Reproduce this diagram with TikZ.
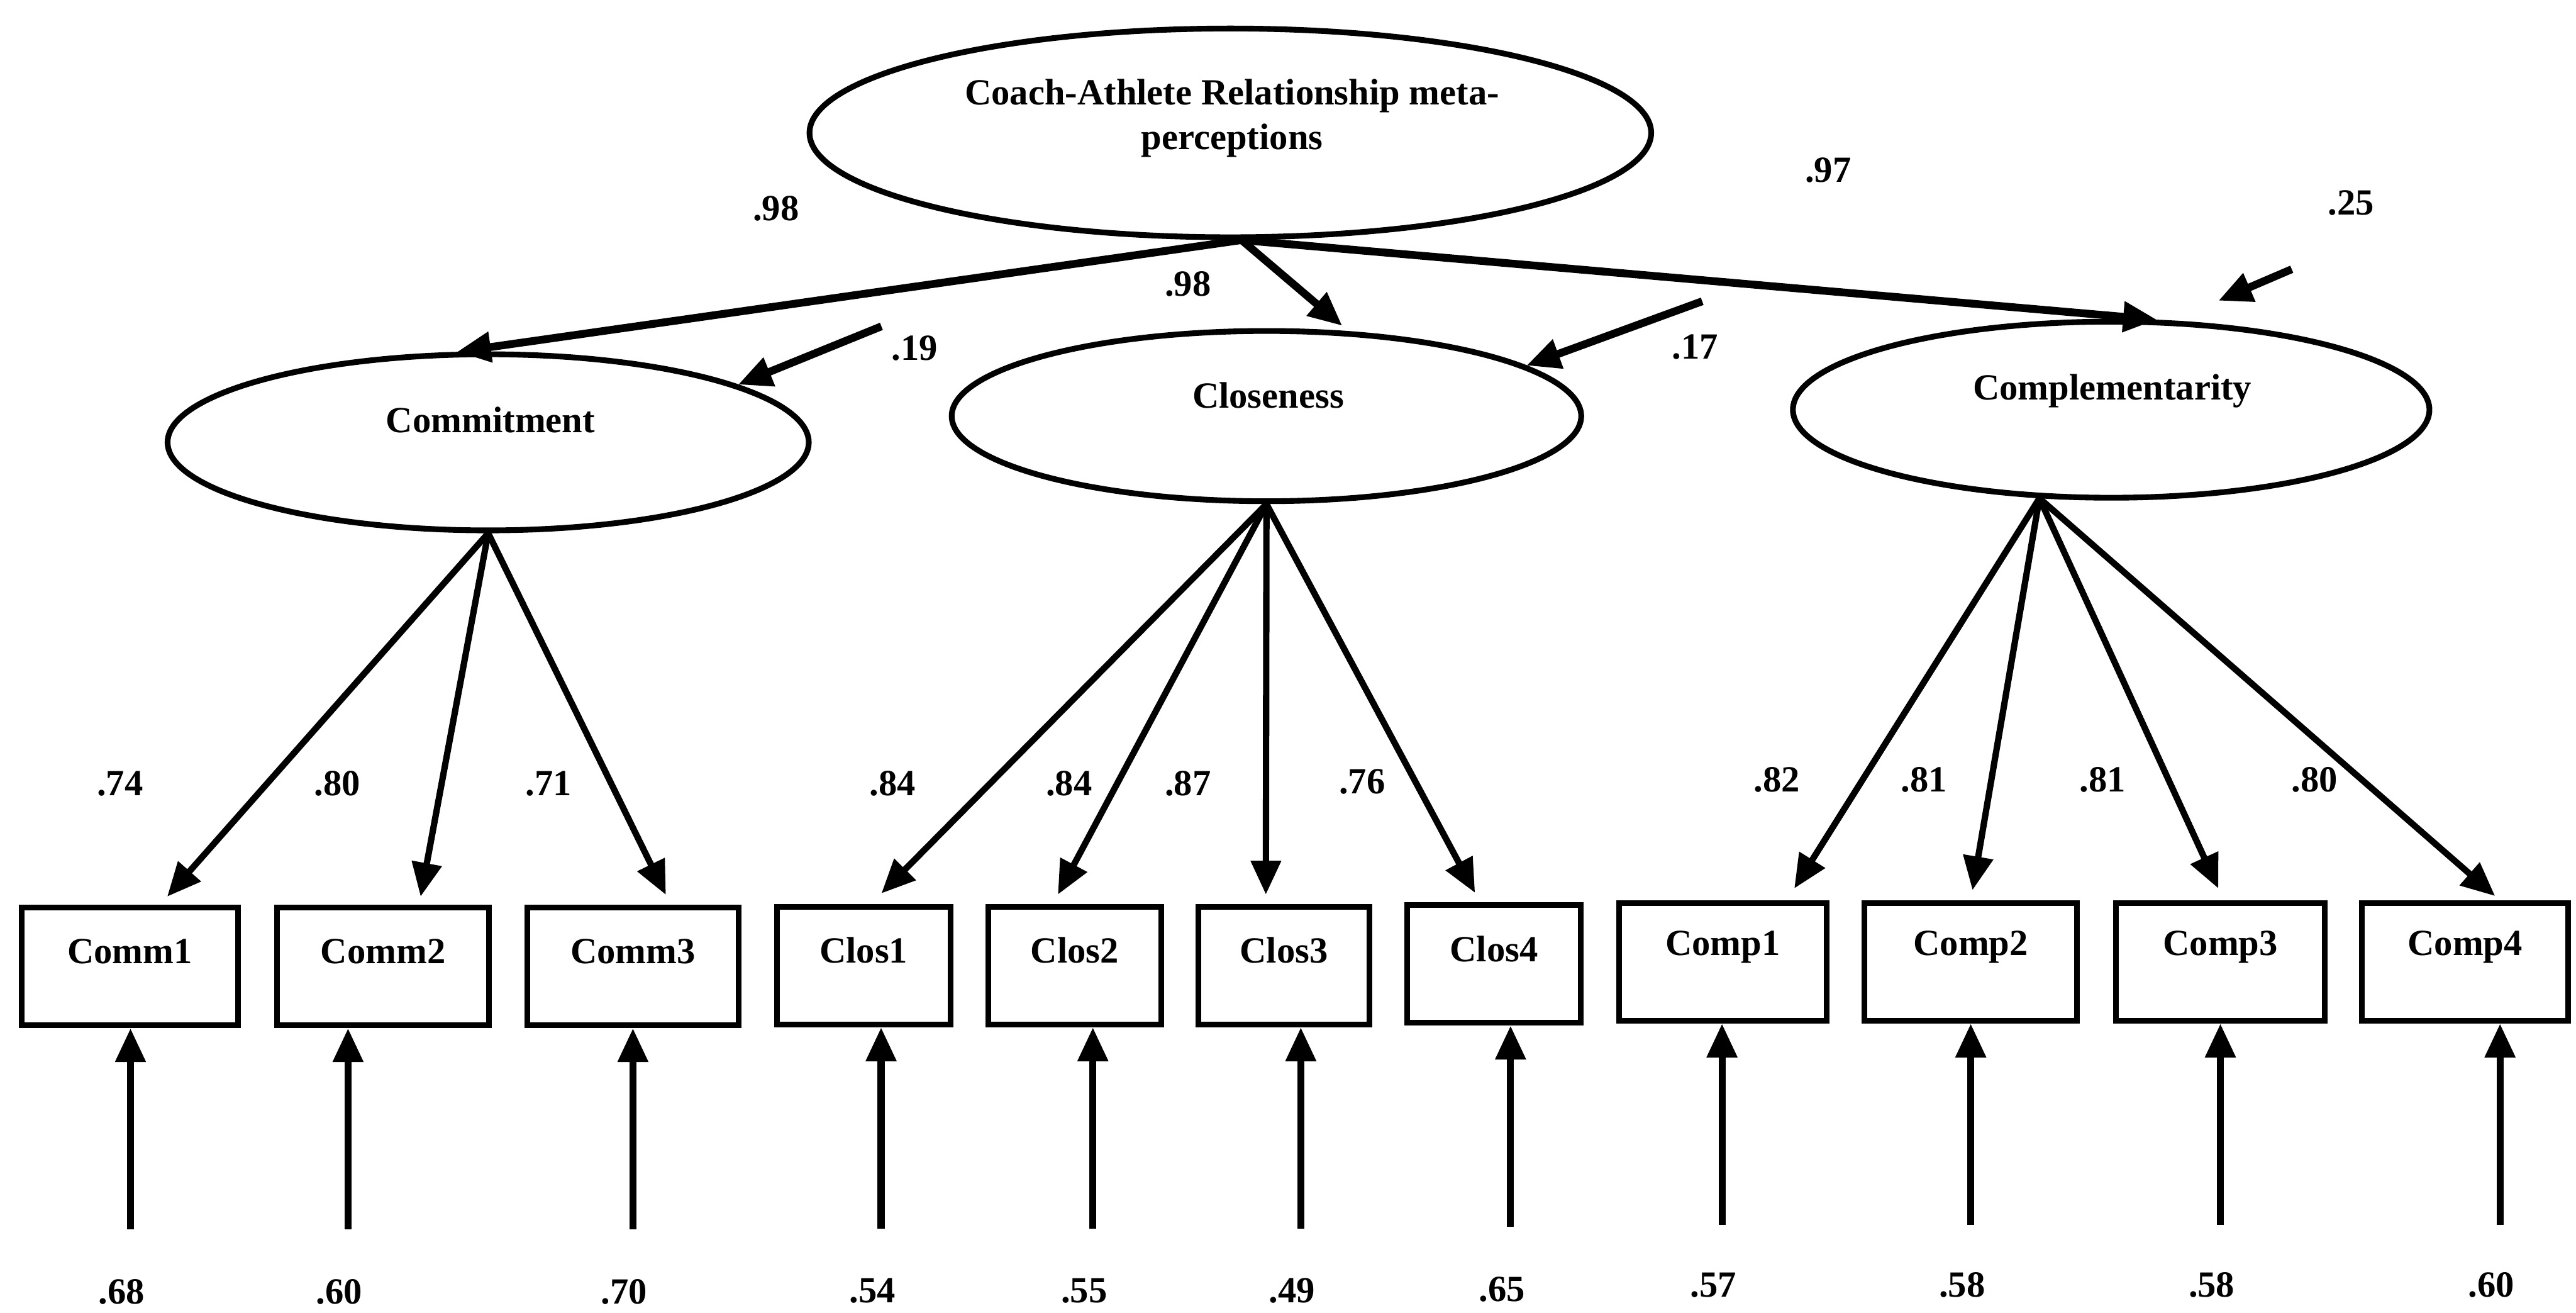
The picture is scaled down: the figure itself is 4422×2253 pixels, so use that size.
\documentclass[tikz,border=0pt]{standalone}
\usepackage{fontspec}
\setmainfont{Liberation Serif}
\usetikzlibrary{arrows.meta,shapes.geometric}
\begin{document}
\begin{tikzpicture}[
  x=0.01cm, y=-0.01cm,
  every node/.style={inner sep=0pt},
  txt/.style={font=\fontsize{18}{22}\selectfont\bfseries, align=center},
  latent/.style={ellipse, draw, line width=2.8pt},
  obs/.style={rectangle, draw, line width=2.8pt, minimum height=2.02cm},
  head/.style={-{Triangle[length=0.58cm,width=0.5cm]}},
  struct/.style={head, line width=3.8pt},
  load/.style={head, line width=3.1pt},
  err/.style={head, line width=3.4pt},
]
\useasboundingbox (0,0) rectangle (4422,2253);

% ---- latent factors ----
\node[latent, minimum width=14.44cm, minimum height=3.58cm] (top) at (2112,228) {};
\node[txt] (topT) at (2115,203) {Coach-Athlete Relationship meta-\\perceptions};

\node[latent, minimum width=11.00cm, minimum height=3.02cm] (com) at (838,759) {};
\node[txt] (comT) at (842,721) {Commitment};

\node[latent, minimum width=10.80cm, minimum height=2.92cm] (clo) at (2174,714) {};
\node[txt] (cloT) at (2177,678) {Closeness};

\node[latent, minimum width=10.92cm, minimum height=3.02cm] (cmp) at (3624,703) {};
\node[txt] (cmpT) at (3626,671) {Complementarity};

% ---- observed indicators ----
\node[obs, minimum width=3.71cm] (c1) at (223,1658.5) {};
\node[obs, minimum width=3.64cm] (c2) at (657.5,1658.5) {};
\node[obs, minimum width=3.62cm] (c3) at (1086.5,1658.5) {};
\node[obs, minimum width=2.98cm] (s1) at (1482.5,1657) {};
\node[obs, minimum width=2.97cm] (s2) at (1845,1657) {};
\node[obs, minimum width=2.93cm] (s3) at (2204,1657) {};
\node[obs, minimum width=2.98cm] (s4) at (2564.5,1654) {};
\node[obs, minimum width=3.56cm] (m1) at (2957.5,1650.5) {};
\node[obs, minimum width=3.65cm] (m2) at (3383,1650.5) {};
\node[obs, minimum width=3.58cm] (m3) at (3811.5,1650.5) {};
\node[obs, minimum width=3.54cm] (m4) at (4231.5,1650.5) {};

\node[txt] (c1t) at ([yshift=-0.80cm]c1.north) {Comm1};
\node[txt] (c2t) at ([yshift=-0.80cm]c2.north) {Comm2};
\node[txt] (c3t) at ([yshift=-0.80cm]c3.north) {Comm3};
\node[txt] (s1t) at ([yshift=-0.80cm]s1.north) {Clos1};
\node[txt] (s2t) at ([yshift=-0.80cm]s2.north) {Clos2};
\node[txt] (s3t) at ([yshift=-0.80cm]s3.north) {Clos3};
\node[txt] (s4t) at ([yshift=-0.80cm]s4.north) {Clos4};
\node[txt] (m1t) at ([yshift=-0.80cm]m1.north) {Comp1};
\node[txt] (m2t) at ([yshift=-0.80cm]m2.north) {Comp2};
\node[txt] (m3t) at ([yshift=-0.80cm]m3.north) {Comp3};
\node[txt] (m4t) at ([yshift=-0.80cm]m4.north) {Comp4};

% ---- second-order paths ----
\draw[struct] (top.-84) -- (com.109);
\draw[struct, shorten >=0.14cm] (top.-84) -- (clo.46);
\draw[struct] (top.-84) -- (cmp.63);
\node[txt] (p1) at (1332,358) {.98};
\node[txt] (p2) at (2039,487) {.98};
\node[txt] (p3) at (3138,292) {.97};

% ---- disturbances ----
\coordinate (d1) at (1513,560);
\coordinate (d2) at (2922,517);
\coordinate (d3) at (3934,462);
\coordinate (d3e) at (3808,516);
\draw[struct] (d1) -- (com.13);
\draw[struct] (d2) -- (clo.11.5);
\draw[struct] (d3) -- (d3e);
\node[txt] (r1) at (1570,598) {.19};
\node[txt] (r2) at (2910,595) {.17};
\node[txt] (r3) at (4036,348) {.25};

% ---- factor loadings ----
\draw[load] (com.south) -- ([xshift=0.64cm,yshift=0.14cm]c1.north);
\draw[load] (com.south) -- ([xshift=0.645cm,yshift=0.14cm]c2.north);
\draw[load] (com.south) -- ([xshift=0.565cm,yshift=0.17cm]c3.north);
\draw[load] (clo.south) -- ([xshift=0.305cm,yshift=0.18cm]s1.north);
\draw[load] (clo.south) -- ([xshift=-0.29cm,yshift=0.16cm]s2.north);
\draw[load] (clo.south) -- ([xshift=-0.31cm,yshift=0.16cm]s3.north);
\draw[load] (clo.south) -- ([xshift=-0.325cm,yshift=0.16cm]s4.north);
\draw[load] (cmp.-129) -- ([xshift=1.225cm,yshift=0.20cm]m1.north);
\draw[load] (cmp.-129) -- ([xshift=0.03cm,yshift=0.17cm]m2.north);
\draw[load] (cmp.-129) -- ([xshift=-0.035cm,yshift=0.20cm]m3.north);
\draw[load] (cmp.-129) -- ([xshift=0.515cm,yshift=0.07cm]m4.north);

\node[txt] (l1) at (206,1345) {.74};
\node[txt] (l2) at (579,1345) {.80};
\node[txt] (l3) at (942,1345) {.71};
\node[txt] (l4) at (1532,1345) {.84};
\node[txt] (l5) at (1835,1345) {.84};
\node[txt] (l6) at (2039,1345) {.87};
\node[txt] (l7) at (2338,1341) {.76};
\node[txt] (l8) at (3050,1338) {.82};
\node[txt] (l9) at (3303,1338) {.81};
\node[txt] (l10) at (3609,1338) {.81};
\node[txt] (l11) at (3973,1338) {.80};

% ---- measurement errors ----
\coordinate (e1)  at ([xshift=0.01cm,yshift=-3.45cm]c1.south);
\coordinate (e2)  at ([xshift=-0.60cm,yshift=-3.45cm]c2.south);
\coordinate (e3)  at ([xshift=0cm,yshift=-3.45cm]c3.south);
\coordinate (e4)  at ([xshift=0.30cm,yshift=-3.45cm]s1.south);
\coordinate (e5)  at ([xshift=0.31cm,yshift=-3.45cm]s2.south);
\coordinate (e6)  at ([xshift=0.29cm,yshift=-3.45cm]s3.south);
\coordinate (e7)  at ([xshift=0.285cm,yshift=-3.45cm]s4.south);
\coordinate (e8)  at ([xshift=-0.015cm,yshift=-3.45cm]m1.south);
\coordinate (e9)  at ([xshift=0cm,yshift=-3.45cm]m2.south);
\coordinate (e10) at ([xshift=0cm,yshift=-3.45cm]m3.south);
\coordinate (e11) at ([xshift=0.60cm,yshift=-3.45cm]m4.south);

\draw[err] (e1)  -- ([xshift=0.01cm]c1.south);
\draw[err] (e2)  -- ([xshift=-0.60cm]c2.south);
\draw[err] (e3)  -- (c3.south);
\draw[err] (e4)  -- ([xshift=0.30cm]s1.south);
\draw[err] (e5)  -- ([xshift=0.31cm]s2.south);
\draw[err] (e6)  -- ([xshift=0.29cm]s3.south);
\draw[err] (e7)  -- ([xshift=0.285cm]s4.south);
\draw[err] (e8)  -- ([xshift=-0.015cm]m1.south);
\draw[err] (e9)  -- (m2.south);
\draw[err] (e10) -- (m3.south);
\draw[err] (e11) -- ([xshift=0.60cm]m4.south);

\node[txt] (v1)  at ([xshift=-0.15cm,yshift=-1.07cm]e1)  {.68};
\node[txt] (v2)  at ([xshift=-0.15cm,yshift=-1.07cm]e2)  {.60};
\node[txt] (v3)  at ([xshift=-0.15cm,yshift=-1.07cm]e3)  {.70};
\node[txt] (v4)  at ([xshift=-0.15cm,yshift=-1.07cm]e4)  {.54};
\node[txt] (v5)  at ([xshift=-0.15cm,yshift=-1.07cm]e5)  {.55};
\node[txt] (v6)  at ([xshift=-0.15cm,yshift=-1.07cm]e6)  {.49};
\node[txt] (v7)  at ([xshift=-0.15cm,yshift=-1.07cm]e7)  {.65};
\node[txt] (v8)  at ([xshift=-0.15cm,yshift=-1.03cm]e8)  {.57};
\node[txt] (v9)  at ([xshift=-0.15cm,yshift=-1.03cm]e9)  {.58};
\node[txt] (v10) at ([xshift=-0.15cm,yshift=-1.03cm]e10) {.58};
\node[txt] (v11) at ([xshift=-0.15cm,yshift=-1.03cm]e11) {.60};
\end{tikzpicture}
\end{document}
